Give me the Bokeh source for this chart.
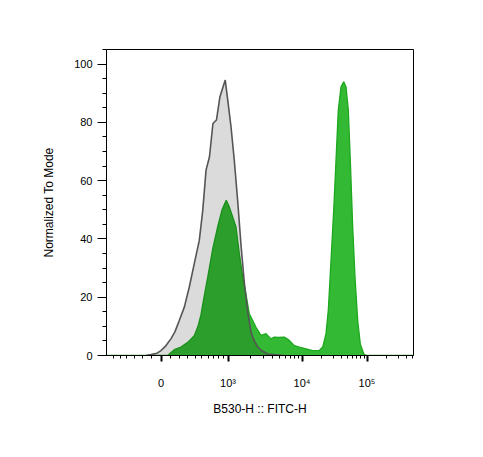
import numpy as np
from bokeh.plotting import figure
from bokeh.models import Range1d, FixedTicker
from bokeh.embed import file_html
from bokeh.resources import INLINE

# ---- data: B530-H (FITC-H) fluorescence intensity vs. normalized to mode ----
control_fitc = [-164, -109, -43, 0, 54, 109, 153, 202, 262, 324, 390, 461, 513, 565, 622,
                684, 750, 820, 935, 994, 1098, 1216, 1352, 1498, 1661, 1846, 2046, 2267,
                2520, 2792, 3440, 5710]
control_mode = [0, 0.3, 0.8, 1.7, 3.4, 5.8, 8.2, 12.0, 16.6, 23.5, 31.5, 39.5, 49.8, 63.6, 68.1,
                79.6, 80.8, 88.8, 94.5, 87.6, 78.5, 67.0, 53.0, 38.0, 25.0, 15.0, 8.0, 5.0,
                3.0, 1.8, 0.5, 0]

stained_fitc = [-800, 36, 72, 145, 222, 304, 390, 442, 486, 533, 594, 684, 772, 864, 958,
                1041, 1157, 1283, 1421, 1580, 1751, 1941, 2157, 2389, 2792, 3263, 3812, 4224,
                4740, 5766, 6737, 7868, 9194, 11520, 14610, 18460, 20820, 23400, 25390, 27940,
                30740, 33360, 36180, 39810, 43800, 47530, 51570, 55350, 60260, 65370, 71940,
                78840, 88970, 96510, 600000]
stained_mode = [0, 0, 0, 2.0, 2.9, 4.5, 6.8, 10, 14, 20, 27, 37, 44, 50, 53.3,
                51.0, 47.5, 44.1, 35, 27, 21, 14.3, 12.0, 9.7, 6.9, 7.5, 5.7, 6.3,
                6.2, 6.3, 5.2, 3.4, 2.9, 2.3, 1.7, 1.7, 2.9, 7.5, 15.5, 32.6,
                49.8, 67.0, 84.2, 92.2, 93.9, 92.2, 84.2, 67.0, 44.1, 26.9, 12.0,
                4.0, 0.6, 0, 0]

major_values = [0, 1e3, 1e4, 1e5]
major_labels = ["0", "10³", "10⁴", "10⁵"]
minor_values = ([-600, -500, -400, -300, -200, -100] + list(range(100, 1000, 100)) +
                list(range(2000, 10000, 1000)) + list(range(20000, 100000, 10000)) +
                [200000, 300000, 400000, 500000])
y_major = [0, 20, 40, 60, 80, 100]
y_minor = list(range(0, 106, 5))


def biex(v):
    """Biexponential-style display transform (linear near zero, log above)."""
    v = np.asarray(v, dtype=float)
    lin = 67.0 * np.arcsinh(v / 500.0) / np.arcsinh(2.0)
    mid = 67.0 + 74.0 * np.log10(np.clip(v, 1e3, 1e4) / 1e3)
    hi = 141.0 + 65.0 * np.log10(np.maximum(v, 1e4) / 1e4)
    return np.where(v <= 1e3, lin, np.where(v <= 1e4, mid, hi))


FONT = "Liberation Sans"

p = figure(width=473, height=445, output_backend="svg", toolbar_location=None,
           x_range=Range1d(-54.5, 252.5), y_range=Range1d(0, 105),
           frame_width=307, frame_height=306,
           min_border_left=106, min_border_top=49, min_border_right=60, min_border_bottom=90)
p.xgrid.visible = False
p.ygrid.visible = False
p.outline_line_color = "black"
p.outline_line_width = 1
p.background_fill_color = "white"
p.border_fill_color = "white"

xs_s = biex(stained_fitc)
xs_c = biex(control_fitc)

# stained (green) histogram
p.varea(x=xs_s, y1=0, y2=stained_mode, fill_color="#34b934", fill_alpha=1.0)
p.line(xs_s, stained_mode, line_color="#1ea81e", line_width=1.3)

# control (grey) histogram drawn on top, translucent
p.varea(x=xs_c, y1=0, y2=control_mode, fill_color="black", fill_alpha=0.14)
p.line(xs_c, control_mode, line_color="#555555", line_width=1.6)

# x axis
xmaj = [float(t) for t in biex(major_values)]
xmin = [float(t) for t in biex(minor_values)]
p.xaxis.ticker = FixedTicker(ticks=xmaj, minor_ticks=xmin)
p.xaxis.major_label_overrides = {t: lab for t, lab in zip(xmaj, major_labels)}
p.xaxis.axis_label = "B530-H :: FITC-H"
p.xaxis.major_tick_out = 6
p.xaxis.major_tick_in = 0
p.xaxis.major_tick_line_width = 2
p.xaxis.minor_tick_out = 3
p.xaxis.minor_tick_in = 0
p.xaxis.major_label_standoff = 15
p.xaxis.axis_label_standoff = 10

# y axis
p.yaxis.ticker = FixedTicker(ticks=y_major, minor_ticks=y_minor)
p.yaxis.axis_label = "Normalized To Mode"
p.yaxis.major_tick_out = 9
p.yaxis.major_tick_in = 0
p.yaxis.minor_tick_out = 4
p.yaxis.minor_tick_in = 0
p.yaxis.major_label_standoff = 5
p.yaxis.axis_label_standoff = 15

for ax in (p.xaxis, p.yaxis):
    ax.axis_line_color = "black"
    ax.major_tick_line_color = "black"
    ax.minor_tick_line_color = "black"
    ax.major_label_text_font = FONT
    ax.major_label_text_font_size = "11px"
    ax.major_label_text_color = "black"
    ax.axis_label_text_font = FONT
    ax.axis_label_text_font_size = "12px"
    ax.axis_label_text_font_style = "normal"
    ax.axis_label_text_color = "black"

open("out.html", "w").write(file_html(p, INLINE))
